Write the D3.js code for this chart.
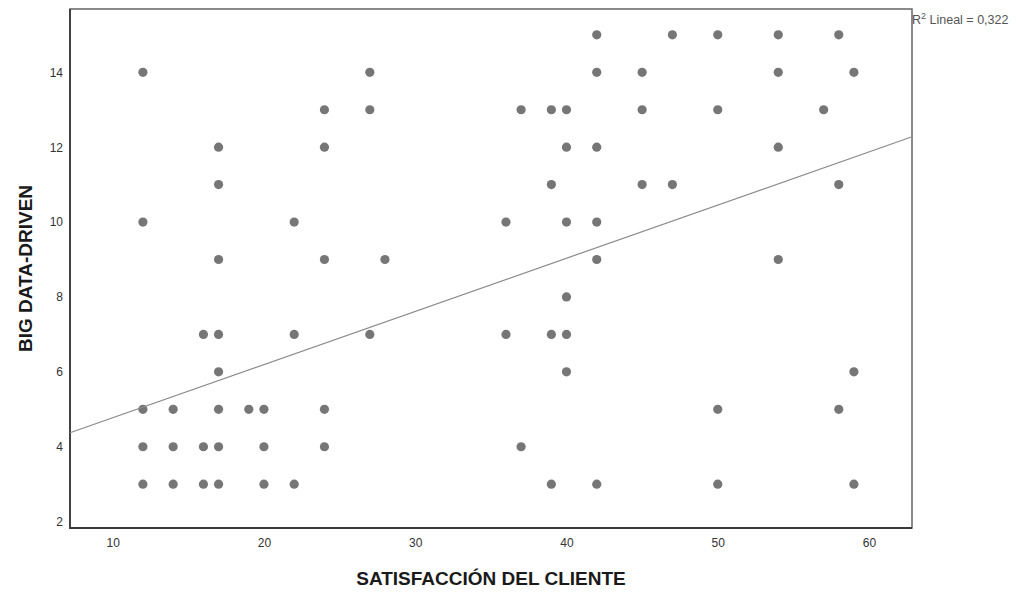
<!DOCTYPE html>
<html>
<head>
<meta charset="utf-8">
<script src="https://cdn.jsdelivr.net/npm/d3@7"></script>
<style>
  body { margin: 0; background: #fff; }
  svg { display: block; font-family: "Liberation Sans", Arial, sans-serif; }
</style>
</head>
<body>
<svg id="chart" width="1022" height="592"></svg>
<script>
// satisfaccion del cliente (x) / big data-driven (y), one entry per point
var satisfaccion = [
    42, 47, 50, 54, 58,
    12, 27, 42, 45, 54, 59,
    24, 27, 37, 39, 40, 45, 50, 57,
    17, 24, 40, 42, 54,
    17, 39, 45, 47, 58,
    12, 22, 36, 40, 42,
    17, 24, 28, 42, 54,
    40,
    16, 17, 22, 27, 36, 39, 40,
    17, 40, 59,
    12, 14, 17, 19, 20, 24, 50, 58,
    12, 14, 16, 17, 20, 24, 37,
    12, 14, 16, 17, 20, 22, 39, 42, 50, 59
]
var bigData = [
    15, 15, 15, 15, 15,
    14, 14, 14, 14, 14, 14,
    13, 13, 13, 13, 13, 13, 13, 13,
    12, 12, 12, 12, 12,
    11, 11, 11, 11, 11,
    10, 10, 10, 10, 10,
    9, 9, 9, 9, 9,
    8,
    7, 7, 7, 7, 7, 7, 7,
    6, 6, 6,
    5, 5, 5, 5, 5, 5, 5, 5,
    4, 4, 4, 4, 4, 4, 4,
    3, 3, 3, 3, 3, 3, 3, 3, 3, 3
]
var xTicks = [10, 20, 30, 40, 50, 60]
var yTicks = [2, 4, 6, 8, 10, 12, 14]
// linear fit as drawn (intercept, slope) and its label
var fit = [3.354, 0.142]
var r2Label = "0,322"

;(function() {
    var svg = d3.select("#chart"),
        pLeft = 70, pRight = 912, pTop = 9, pBottom = 528

    var x = d3.scaleLinear().domain([7.18, 62.84]).range([pLeft, pRight]),
        y = d3.scaleLinear().domain([1.83, 15.69]).range([pBottom, pTop])

    // frame
    svg.append("rect")
        .attr("x", pLeft).attr("y", pTop)
        .attr("width", pRight - pLeft).attr("height", pBottom - pTop)
        .attr("fill", "none").attr("stroke", "#6e6e6e").attr("stroke-width", 1.6)

    svg.append("path")
        .attr("d", "M" + pLeft + "," + pTop + "V" + pBottom + "H" + pRight)
        .attr("fill", "none").attr("stroke", "#3a3a3a").attr("stroke-width", 1.8)

    // axes, labels only
    var xAxis = svg.append("g")
        .attr("transform", "translate(0," + pBottom + ")")
        .call(d3.axisBottom(x).tickValues(xTicks).tickSize(0).tickPadding(10))
    xAxis.select(".domain").remove()
    xAxis.selectAll("text").attr("font-size", 12).attr("fill", "#333")
        .attr("font-family", "Liberation Sans, Arial, sans-serif")

    var yAxis = svg.append("g")
        .attr("transform", "translate(" + pLeft + ",0)")
        .call(d3.axisLeft(y).tickValues(yTicks).tickSize(0).tickPadding(7))
    yAxis.select(".domain").remove()
    yAxis.selectAll("text").attr("font-size", 12).attr("fill", "#333")
        .attr("font-family", "Liberation Sans, Arial, sans-serif")

    // points
    svg.append("g").selectAll("circle")
        .data(satisfaccion)
        .enter().append("circle")
        .attr("cx", function(d) { return x(d) })
        .attr("cy", function(d, i) { return y(bigData[i]) })
        .attr("r", 4.6)
        .attr("fill", "#767676")

    // fit line
    var x0 = x.domain()[0], x1 = x.domain()[1]
    svg.append("line")
        .attr("x1", x(x0)).attr("y1", y(fit[0] + fit[1] * x0))
        .attr("x2", x(x1)).attr("y2", y(fit[0] + fit[1] * x1))
        .attr("stroke", "#8a8a8a").attr("stroke-width", 1.2)

    // R2 label
    var r2 = svg.append("text")
        .attr("x", pRight).attr("y", 24)
        .attr("font-size", 12.5).attr("fill", "#555")
    r2.append("tspan").text("R")
    r2.append("tspan").attr("dy", -5).attr("font-size", 9).text("2")
    r2.append("tspan").attr("dy", 5).text(" Lineal = " + r2Label)

    // axis titles
    svg.append("text")
        .attr("x", (pLeft + pRight) / 2).attr("y", 585)
        .attr("text-anchor", "middle")
        .attr("font-size", 19).attr("font-weight", "bold").attr("fill", "#1a1a1a")
        .text("SATISFACCIÓN DEL CLIENTE")

    svg.append("text")
        .attr("transform", "translate(32," + (pTop + pBottom) / 2 + ") rotate(-90)")
        .attr("text-anchor", "middle")
        .attr("font-size", 19).attr("font-weight", "bold").attr("fill", "#1a1a1a")
        .text("BIG DATA-DRIVEN")
}())
</script>
</body>
</html>
